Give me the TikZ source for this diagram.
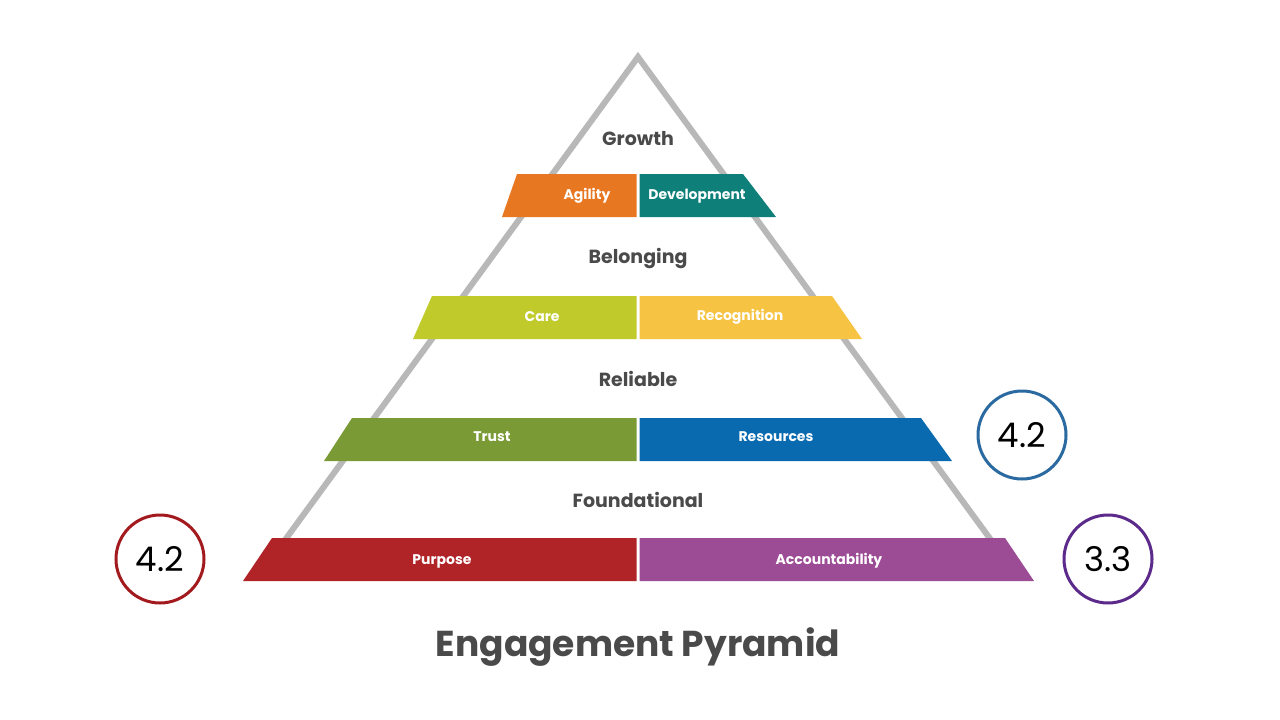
\documentclass[tikz,border=0pt]{standalone}
\usepackage{fontspec}
\setmainfont{Poppins}
\definecolor{txtgray}{HTML}{4A4A4A}
\definecolor{lineg}{HTML}{B8B8B8}
\definecolor{cOr}{HTML}{E87722}
\definecolor{cTe}{HTML}{0F7F7A}
\definecolor{cLi}{HTML}{C0CA2B}
\definecolor{cYe}{HTML}{F6C342}
\definecolor{cGr}{HTML}{7A9A35}
\definecolor{cBl}{HTML}{0A6AB0}
\definecolor{cRe}{HTML}{B02428}
\definecolor{cPu}{HTML}{9B4C94}
\definecolor{kRe}{HTML}{A31A1E}
\definecolor{kBl}{HTML}{2A6AA0}
\definecolor{kPu}{HTML}{5B2A8A}
\begin{document}
\begin{tikzpicture}[x=1pt,y=-1pt,
  lvl/.style={font=\fontsize{19}{22}\selectfont\bfseries, text=txtgray},
  bandtxt/.style={font=\fontsize{14}{16}\selectfont\bfseries, text=white},
  score/.style={circle, line width=3pt, minimum size=88pt, font=\fontsize{34}{38}\selectfont, text=black}]
\useasboundingbox (0,0) rectangle (1280,720);
\fill[white] (0,0) rectangle (1280,720);
\draw[lineg, line width=6pt, line join=miter] (285,540) -- (638,57) -- (991,540);
% band 1
\fill[cOr] (502,217) -- (517,174) -- (636.5,174) -- (636.5,217) -- cycle;
\fill[cTe] (639.5,217) -- (639.5,174) -- (743,174) -- (776,217) -- cycle;
\node[bandtxt] (agi) at (587,196) {Agility};
\node[bandtxt] (dev) at (697,196) {Development};
% band 2
\fill[cLi] (413,339) -- (432,296) -- (636.5,296) -- (636.5,339) -- cycle;
\fill[cYe] (639.5,339) -- (639.5,296) -- (832,296) -- (862,339) -- cycle;
\node[bandtxt] (care) at (542,317) {Care};
\node[bandtxt] (rec) at (740,317) {Recognition};
% band 3
\fill[cGr] (324,461) -- (352,418) -- (636.5,418) -- (636.5,461) -- cycle;
\fill[cBl] (639.5,461) -- (639.5,418) -- (921,418) -- (952,461) -- cycle;
\node[bandtxt] (tru) at (492,437) {Trust};
\node[bandtxt] (res) at (776,437) {Resources};
% band 4
\fill[cRe] (243,581) -- (272,538) -- (636.5,538) -- (636.5,581) -- cycle;
\fill[cPu] (639.5,581) -- (639.5,538) -- (1005,538) -- (1034,581) -- cycle;
\node[bandtxt] (pur) at (442,561) {Purpose};
\node[bandtxt] (acc) at (829,561) {Accountability};
% level labels
\node[lvl] (g) at (638,139) {Growth};
\node[lvl] (b) at (638,258) {Belonging};
\node[lvl] (r) at (638,379) {Reliable};
\node[lvl] (f) at (638,500) {Foundational};
% title
\node[font=\fontsize{36}{40}\selectfont\bfseries, text=txtgray] (t) at (638,647) {Engagement Pyramid};
% scores
\node[score, draw=kRe] (s1) at (160,559) {4.2};
\node[score, draw=kBl] (s2) at (1022,435) {4.2};
\node[score, draw=kPu] (s3) at (1108,559) {3.3};
\end{tikzpicture}
\end{document}
